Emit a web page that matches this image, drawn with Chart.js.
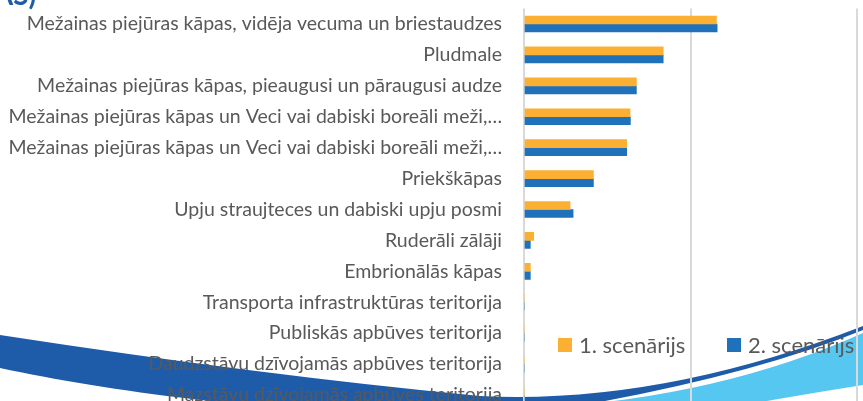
<!DOCTYPE html>
<html>
<head>
<meta charset="utf-8">
<script src="https://cdn.jsdelivr.net/npm/chart.js@4"></script>
<style>
  html, body { margin: 0; padding: 0; background: #fff; }
  #wrap { position: relative; width: 863px; height: 401px; overflow: hidden; }
  #chart { position: absolute; left: 0; top: 0; }
  #legend { position: absolute; left: 558px; top: 331px; font-family: Lato, sans-serif; font-size: 22px; color: #595959; white-space: nowrap; }
  #legend span.item { position: absolute; top: 0; display: flex; align-items: center; }
  #legend i { display: inline-block; width: 14px; height: 14px; margin-right: 7px; }
</style>
</head>
<body>
<div id="wrap">
  <canvas id="chart" width="863" height="420"></canvas>
  <div id="legend"></div>
</div>
<script>
const categories = [
  "Mežainas piejūras kāpas, vidēja vecuma un briestaudzes",
  "Pludmale",
  "Mežainas piejūras kāpas, pieaugusi un pāraugusi audze",
  "Mežainas piejūras kāpas un Veci vai dabiski boreāli meži,…",
  "Mežainas piejūras kāpas un Veci vai dabiski boreāli meži,…",
  "Priekškāpas",
  "Upju straujteces un dabiski upju posmi",
  "Ruderāli zālāji",
  "Embrionālās kāpas",
  "Transporta infrastruktūras teritorija",
  "Publiskās apbūves teritorija",
  "Daudzstāvu dzīvojamās apbūves teritorija",
  "Mazstāvu dzīvojamās apbūves teritorija"
]
const scenario1 = [115.6, 83.6, 67.5, 63.7, 61.7, 41.7, 27.7, 5.8, 3.8, 0, 0, 0, 0]
const scenario2 = [116, 83.6, 67.5, 63.9, 61.7, 41.7, 29.5, 3.8, 3.8, 0, 0, 0, 0]
const seriesNames = ["1. scenārijs", "2. scenārijs"]
const seriesColors = ["#FBB034", "#1F72BA"]

// slide decoration behind the chart: blue swoosh at the bottom, clipped title
const backdrop = {
  id: "backdrop",
  beforeDraw(chart) {
    const ctx = chart.ctx
    ctx.save()
    ctx.fillStyle = "#1E5CA9"
    ctx.beginPath()
    ctx.moveTo(0, 335)
    ctx.quadraticCurveTo(260, 375, 480, 396)
    ctx.quadraticCurveTo(660, 405, 863, 326)
    ctx.lineTo(863, 330)
    ctx.quadraticCurveTo(760, 372, 600, 402)
    ctx.bezierCurveTo(400, 430, 150, 400, 0, 368)
    ctx.closePath()
    ctx.fill()

    ctx.fillStyle = "#56C7F1"
    ctx.beginPath()
    ctx.moveTo(540, 408)
    ctx.quadraticCurveTo(720, 397, 863, 333)
    ctx.lineTo(863, 385)
    ctx.quadraticCurveTo(780, 398, 690, 415)
    ctx.closePath()
    ctx.fill()

    ctx.fillStyle = "#1E5CA9"
    ctx.font = "bold 28px Lato, sans-serif"
    ctx.textBaseline = "alphabetic"
    ctx.fillText("(AS)", -14, 5)
    ctx.restore()
  }
}

new Chart(document.getElementById("chart"), {
  type: "bar",
  data: {
    labels: categories,
    datasets: [
      { label: seriesNames[0], data: scenario1, backgroundColor: seriesColors[0] },
      { label: seriesNames[1], data: scenario2, backgroundColor: seriesColors[1] }
    ]
  },
  options: {
    indexAxis: "y",
    responsive: false,
    animation: false,
    layout: { padding: { top: 8.5, bottom: 9.5, left: 0, right: 6 } },
    datasets: { bar: { barThickness: 8 } },
    plugins: { legend: { display: false }, tooltip: { enabled: false } },
    scales: {
      x: {
        min: 0,
        max: 200,
        ticks: { display: false, stepSize: 100 },
        grid: { color: "#d9d9d9", lineWidth: 2, drawTicks: false },
        border: { display: false },
        afterFit(scale) {
          scale.height = 0
          scale.paddingLeft = 0
          scale.paddingRight = 0
        }
      },
      y: {
        grid: { display: false, drawTicks: false },
        border: { display: false },
        ticks: { color: "#595959", font: { family: "Lato", size: 19.5 }, padding: 22, autoSkip: false },
        afterFit(scale) {
          scale.width = 524
          scale.paddingTop = 0
          scale.paddingBottom = 0
        }
      }
    }
  },
  plugins: [backdrop]
})

const legend = document.getElementById("legend")
const offsets = [0, 169]
seriesNames.forEach((name, i) => {
  const item = document.createElement("span")
  item.className = "item"
  item.style.left = offsets[i] + "px"
  item.innerHTML = `<i style="background:${seriesColors[i]}"></i>${name}`
  legend.appendChild(item)
})
</script>
</body>
</html>
